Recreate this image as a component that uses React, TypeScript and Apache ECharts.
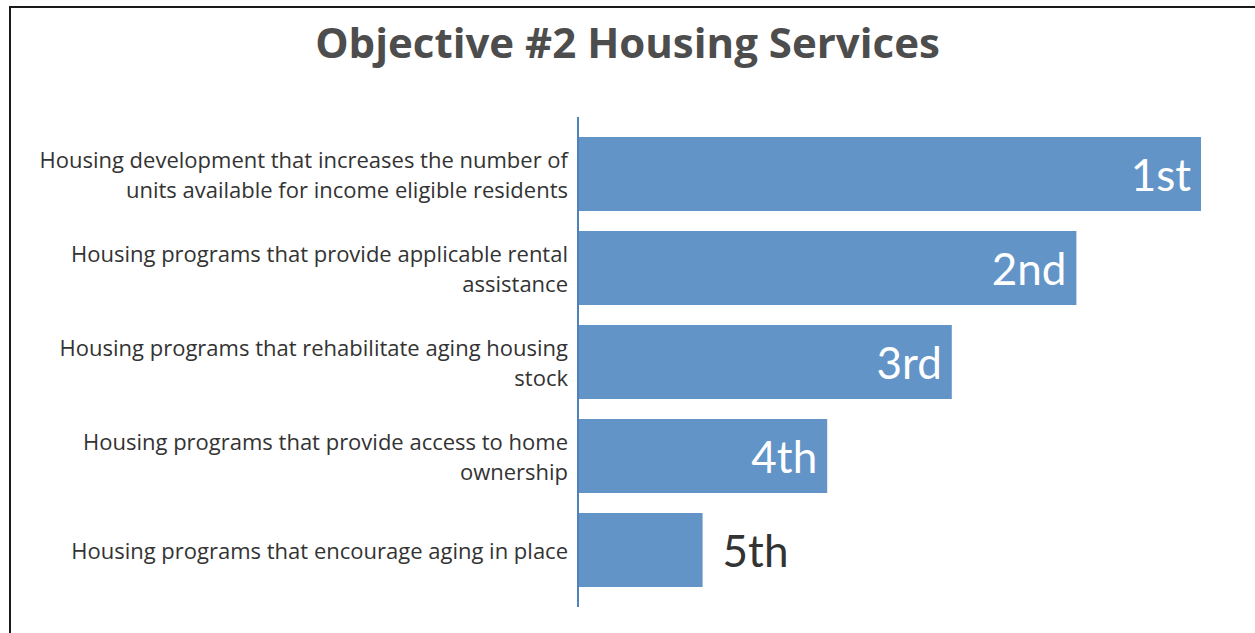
import React, { useEffect, useRef } from "react";
import * as echarts from "echarts";

const categories = [
  "Housing development that increases the number of\nunits available for income eligible residents",
  "Housing programs that provide applicable rental\nassistance",
  "Housing programs that rehabilitate aging housing\nstock",
  "Housing programs that provide access to home\nownership",
  "Housing programs that encourage aging in place",
];
const scores = [5, 4, 3, 2, 1];
const rankLabels = ["1st", "2nd", "3rd", "4th", "5th"];
const insideFlags = [true, true, true, true, false];

const TEXT_FONT = "'Open Sans', 'Source Sans Pro', sans-serif";
const RANK_FONT = "Lato, 'Source Sans Pro', sans-serif";

export default function App() {
  const ref = useRef<HTMLDivElement>(null);
  useEffect(() => {
    if (!ref.current) return;
    const chart = echarts.init(ref.current, null, { renderer: "svg" });
    chart.setOption({
      animation: false,
      backgroundColor: "#ffffff",
      title: {
        text: "Objective #2 Housing Services",
        left: "center",
        top: 15,
        textStyle: {
          fontFamily: TEXT_FONT,
          fontSize: 42,
          fontWeight: "bold",
          color: "#4d4d4d",
        },
      },
      grid: { left: 578, top: 127, width: 623, height: 470, containLabel: false },
      xAxis: {
        type: "value",
        min: 0,
        max: 5,
        show: false,
      },
      yAxis: {
        type: "category",
        inverse: true,
        data: categories,
        axisLine: { show: false },
        axisTick: { show: false },
        axisLabel: {
          margin: 10,
          fontFamily: TEXT_FONT,
          fontSize: 22,
          lineHeight: 30,
          color: "#333333",
          align: "right",
        },
      },
      series: [
        {
          type: "bar",
          barWidth: 74,
          itemStyle: { color: "#6394c7" },
          data: scores.map((v, i) => ({
            value: v,
            label: {
              show: true,
              position: insideFlags[i] ? "insideRight" : "right",
              distance: insideFlags[i] ? 10 : 20,
              color: insideFlags[i] ? "#ffffff" : "#333333",
              formatter: () => rankLabels[i],
              fontFamily: RANK_FONT,
              fontSize: 44,
            },
          })),
        },
      ],
      graphic: [
        {
          type: "line",
          shape: { x1: 578, y1: 117, x2: 578, y2: 607 },
          style: { stroke: "#4f81bd", lineWidth: 2 },
          z: 10,
        },
        {
          type: "rect",
          shape: { x: 10, y: 7, width: 1300, height: 700 },
          style: { fill: "none", stroke: "#1a1a1a", lineWidth: 2 },
          z: 10,
        },
      ],
    });
    return () => chart.dispose();
  }, []);
  return (
    <div style={{ position: "absolute", left: 0, top: 0, width: 1255, height: 633 }}>
      <div ref={ref} style={{ width: 1255, height: 633 }} />
    </div>
  );
}
